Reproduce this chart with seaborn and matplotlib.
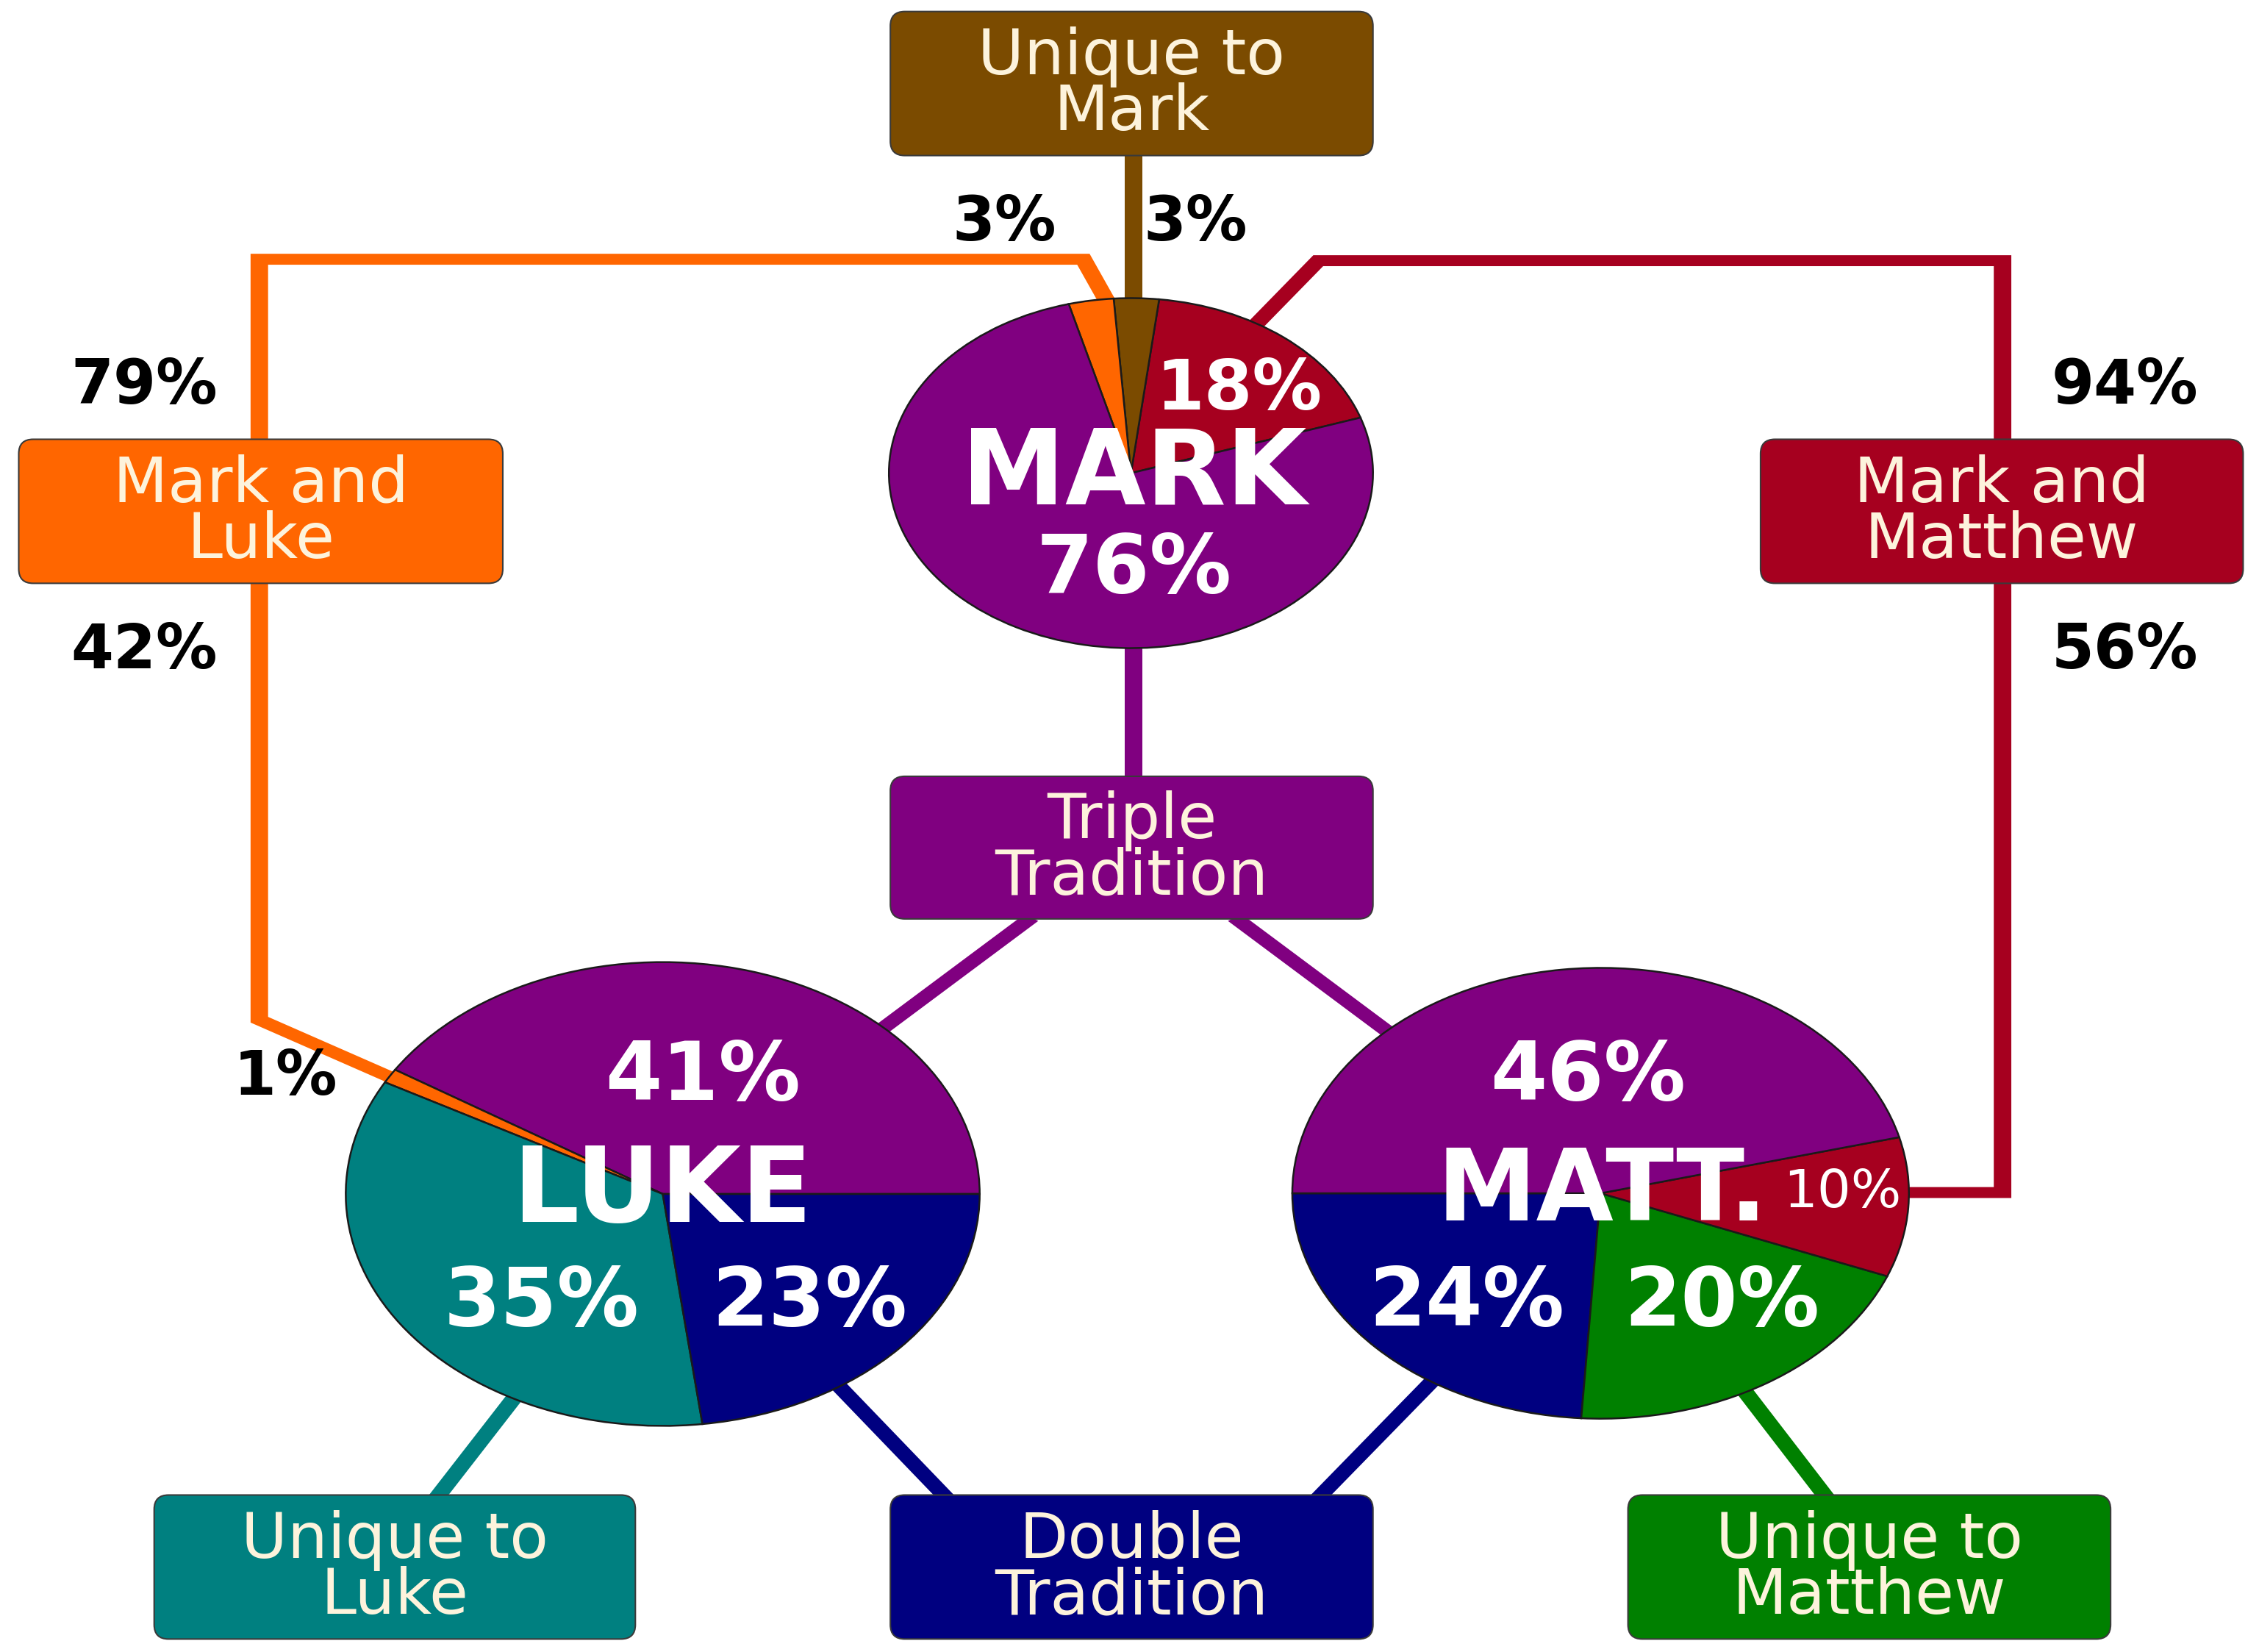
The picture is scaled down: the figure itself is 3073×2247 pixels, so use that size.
"""
Synoptic gospels diagram: how much of each gospel is shared with the others.
"""

import math
import matplotlib
matplotlib.use("Agg")
import matplotlib.pyplot as plt
from matplotlib.patches import FancyBboxPatch, Polygon
import seaborn as sns

# Share of each gospel (percent), in pie order
mark_parts = ["Mark and Matthew", "Unique to Mark", "Mark and Luke", "Triple Tradition"]
mark_share = [18, 3, 3, 76]
luke_parts = ["Triple Tradition", "Mark and Luke", "Unique to Luke", "Double Tradition"]
luke_share = [41, 1, 35, 23]
matt_parts = ["Double Tradition", "Unique to Matthew", "Mark and Matthew", "Triple Tradition"]
matt_share = [24, 20, 10, 46]

# Labels written inside the pies
mark_labels = ["18%", "MARK", "76%"]
luke_labels = ["41%", "LUKE", "35%", "23%"]
matt_labels = ["46%", "MATT.", "10%", "24%", "20%"]

# Labels written next to the connecting lines
side_labels = ["3%", "3%", "79%", "42%", "94%", "56%", "1%"]

box_names = ["Unique to\nMark", "Mark and\nLuke", "Mark and\nMatthew", "Triple\nTradition",
             "Unique to\nLuke", "Double\nTradition", "Unique to\nMatthew"]

colors = {
    "Triple Tradition": "#800080",
    "Mark and Matthew": "#a6001f",
    "Unique to Mark": "#7b4b00",
    "Mark and Luke": "#ff6600",
    "Unique to Luke": "#008080",
    "Double Tradition": "#000080",
    "Unique to Matthew": "#008000",
}

sns.set_theme(style="white")
plt.rcParams["font.family"] = ["DejaVu Sans"]

W, H = 1568, 1147  # layout grid
fig = plt.figure(figsize=(30.73, 22.47), dpi=100)
ax = fig.add_axes([0, 0, 1, 1])
ax.set_xlim(0, W)
ax.set_ylim(H, 0)
ax.axis("off")

# the whole drawing is stretched sideways, so strokes are built unstretched
# and then widened: vertical strokes come out thicker than horizontal ones
HALF = 3.8   # half stroke width of a horizontal line, grid units
S = 1.6      # horizontal stretch


def stroke(pts, half=HALF):
    u = [(x / S, y) for x, y in pts]

    def normal(a, b):
        dx, dy = b[0] - a[0], b[1] - a[1]
        L = math.hypot(dx, dy)
        return (-dy / L, dx / L)

    left, right = [], []
    n = len(u)
    for i in range(n):
        if i == 0:
            off = normal(u[0], u[1])
            k = half
        elif i == n - 1:
            off = normal(u[-2], u[-1])
            k = half
        else:
            n1 = normal(u[i - 1], u[i])
            n2 = normal(u[i], u[i + 1])
            m = (n1[0] + n2[0], n1[1] + n2[1])
            Lm = math.hypot(*m)
            off = (m[0] / Lm, m[1] / Lm)
            k = half / (off[0] * n1[0] + off[1] * n1[1])
        left.append((u[i][0] + off[0] * k, u[i][1] + off[1] * k))
        right.append((u[i][0] - off[0] * k, u[i][1] - off[1] * k))
    return [(x * S, y) for x, y in left + right[::-1]]


# connecting lines
lines = [
    ("Unique to Mark", [(787, 108), (787, 215)]),
    ("Mark and Luke", [(770, 212), (752, 180), (180, 180), (180, 708), (278, 751)]),
    ("Mark and Matthew", [(872, 225), (915, 181), (1390, 181), (1390, 828), (1320, 828)]),
    ("Triple Tradition", [(787, 445), (787, 540)]),
    ("Triple Tradition", [(716, 637), (610, 716)]),
    ("Triple Tradition", [(857, 637), (967, 719)]),
    ("Unique to Luke", [(362, 964), (303, 1040)]),
    ("Double Tradition", [(580, 960), (657, 1040)]),
    ("Double Tradition", [(997, 956), (915, 1040)]),
    ("Unique to Matthew", [(1208, 962), (1268, 1040)]),
]
for name, pts in lines:
    ax.add_patch(Polygon(stroke(pts), closed=True, facecolor=colors[name],
                         edgecolor="none", zorder=1))

# rounded label boxes
boxes = [
    ("Unique to Mark", 618, 8, 953, 108),
    ("Mark and Luke", 13, 305, 349, 405),
    ("Mark and Matthew", 1222, 305, 1557, 405),
    ("Triple Tradition", 618, 539, 953, 638),
    ("Unique to Luke", 107, 1038, 441, 1138),
    ("Double Tradition", 618, 1038, 953, 1138),
    ("Unique to Matthew", 1130, 1038, 1465, 1138),
]
for (name, x0, y0, x1, y1), text in zip(boxes, box_names):
    patch = FancyBboxPatch((x0, y0), x1 - x0, y1 - y0,
                           boxstyle="round,pad=0,rounding_size=10",
                           facecolor=colors[name], edgecolor="#3a3a3a", lw=1.5, zorder=2)
    ax.add_patch(patch)
    ax.text((x0 + x1) / 2, (y0 + y1) / 2 + 1, text, ha="center", va="center",
            color="#fdf3dc", fontsize=62, linespacing=0.9, zorder=3)

# black percentages beside the lines
side_pos = [(697, 155), (830, 155), (100, 268), (100, 452), (1475, 268), (1475, 452), (198, 748)]
for (x, y), t in zip(side_pos, side_labels):
    ax.text(x, y, t, ha="center", va="center", fontsize=60, fontweight="bold",
            color="black", zorder=3)


def draw_pie(bbox, shares, parts, startangle):
    x0, y0, x1, y1 = bbox
    pax = fig.add_axes([x0 / W, 1 - y1 / H, (x1 - x0) / W, (y1 - y0) / H])
    wedges, _ = pax.pie(shares, colors=[colors[p] for p in parts], startangle=startangle,
                        radius=1, frame=True,
                        wedgeprops={"edgecolor": "#1a1a1a", "linewidth": 1.8})
    for w in wedges:
        w.set_clip_on(False)
    pax.set_aspect("auto")
    pax.set_xlim(-1, 1)
    pax.set_ylim(-1, 1)
    pax.axis("off")
    pax.patch.set_alpha(0)
    return pax


draw_pie((617, 207, 953, 450), mark_share, mark_parts, 18.5)
draw_pie((240, 668, 680, 990), luke_share, luke_parts, 0)
draw_pie((897, 672, 1325, 985), matt_share, matt_parts, 180)

# labels on top of the pies
top = fig.add_axes([0, 0, 1, 1])
top.set_xlim(0, W)
top.set_ylim(H, 0)
top.axis("off")
top.patch.set_alpha(0)

pie_text = [
    (860, 271, mark_labels[0], 68, "bold"),
    (787, 330, mark_labels[1], 102, "bold"),
    (787, 396, mark_labels[2], 80, "bold"),
    (488, 748, luke_labels[0], 80, "bold"),
    (460, 828, luke_labels[1], 102, "bold"),
    (376, 905, luke_labels[2], 80, "bold"),
    (562, 905, luke_labels[3], 80, "bold"),
    (1102, 748, matt_labels[0], 80, "bold"),
    (1112, 828, matt_labels[1], 98, "bold"),
    (1279, 828, matt_labels[2], 52, "normal"),
    (1018, 905, matt_labels[3], 80, "bold"),
    (1195, 905, matt_labels[4], 80, "bold"),
]
for x, y, t, size, weight in pie_text:
    top.text(x, y, t, ha="center", va="center", fontsize=size, fontweight=weight,
             color="white")

fig.savefig("out.png", dpi=100, facecolor="white")
plt.close(fig)
